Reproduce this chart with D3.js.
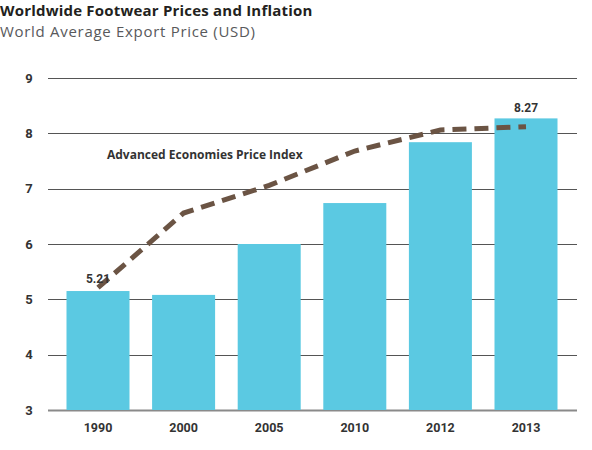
<!DOCTYPE html>
<html><head><meta charset="utf-8">
<script src="https://cdn.jsdelivr.net/npm/d3@7/dist/d3.min.js"></script>
<style>
body{margin:0;background:#fff;}
svg{display:block;font-family:Roboto,"Open Sans",sans-serif;}
</style></head>
<body>
<svg id="chart" width="592" height="450"></svg>
<script>
const years = ["1990","2000","2005","2010","2012","2013"];
const exportPrice = [5.15, 5.08, 6.0, 6.74, 7.84, 8.27];
const priceIndex = [5.21, 6.56, 7.06, 7.68, 8.06, 8.12];
const yTicks = [3,4,5,6,7,8,9];
const barLabels = [{i:0, text:"5.21", series:"line"}, {i:5, text:"8.27", series:"bar"}];

const svg = d3.select("#chart");
const x = d3.scaleBand().domain(years).range([55.2, 568.8]).paddingInner(0.264).paddingOuter(0.132);
const y = d3.scaleLinear().domain([3, 9]).range([410, 78]);

svg.append("text").attr("x", 0).attr("y", 16).attr("font-size", 15).attr("font-weight", 700)
  .attr("font-family", "'Open Sans'").attr("letter-spacing", 0.2)
  .attr("fill", "#231f20").text("Worldwide Footwear Prices and Inflation");
svg.append("text").attr("x", 0).attr("y", 37).attr("font-size", 15).attr("fill", "#58595b")
  .attr("font-family", "'Open Sans'").attr("letter-spacing", 0.7)
  .text("World Average Export Price (USD)");

// gridlines
const grid = svg.append("g");
grid.selectAll("line").data(yTicks).join("line")
  .attr("x1", 48).attr("x2", 577)
  .attr("y1", d => Math.round(y(d)) + 0.5).attr("y2", d => Math.round(y(d)) + 0.5)
  .attr("stroke", d => d === 3 ? "#8a8a8a" : "#555").attr("stroke-width", d => d === 3 ? 2 : 1);
grid.selectAll("text").data(yTicks).join("text")
  .attr("x", 29).attr("y", d => y(d) + 4.5).attr("text-anchor", "middle")
  .attr("font-size", 13).attr("font-weight", 700).attr("fill", "#333").text(d => d);

// bars
svg.append("g").selectAll("rect").data(exportPrice).join("rect")
  .attr("x", (d, i) => x(years[i])).attr("width", x.bandwidth())
  .attr("y", d => y(d)).attr("height", d => y(3) - y(d))
  .attr("fill", "#5bc9e2");

// x labels
svg.append("g").selectAll("text").data(years).join("text")
  .attr("x", d => x(d) + x.bandwidth() / 2).attr("y", 432).attr("text-anchor", "middle")
  .attr("font-size", 12.5).attr("font-weight", 700).attr("fill", "#333").text(d => d);

// dashed line
const line = d3.line().x((d, i) => x(years[i]) + x.bandwidth() / 2).y(d => y(d));
svg.append("path").datum(priceIndex).attr("d", line)
  .attr("fill", "none").attr("stroke", "#6b5444").attr("stroke-width", 5)
  .attr("stroke-dasharray", "14,8");

// legend text
svg.append("text").attr("x", 107).attr("y", 159).attr("font-size", 12).attr("font-weight", 700)
  .attr("font-family", "'Open Sans'")
  .attr("fill", "#333").text("Advanced Economies Price Index");

// value labels
svg.append("g").selectAll("text").data(barLabels).join("text")
  .attr("x", d => x(years[d.i]) + x.bandwidth() / 2)
  .attr("y", d => d.series === "bar" ? y(exportPrice[d.i]) - 6 : y(priceIndex[d.i]) - 5)
  .attr("text-anchor", "middle").attr("font-size", 12).attr("font-weight", 700)
  .attr("fill", "#333").text(d => d.text);
</script>
</body></html>
